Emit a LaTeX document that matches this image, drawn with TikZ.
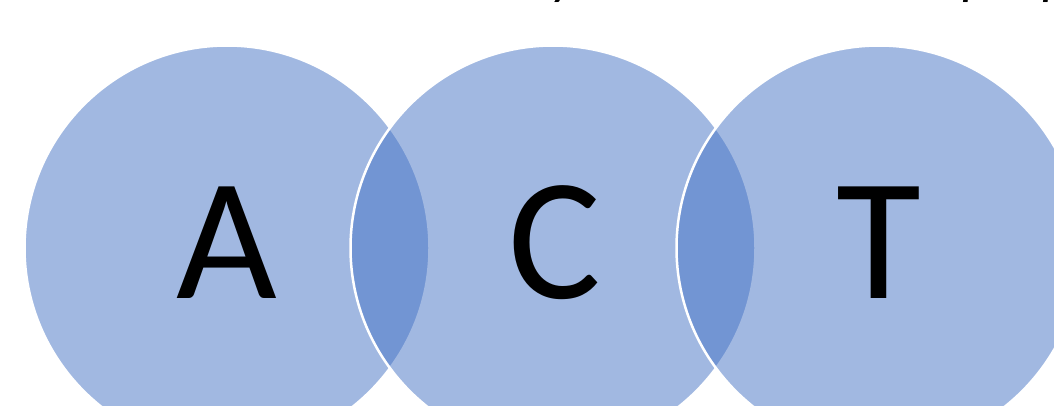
\documentclass[tikz,border=0pt]{standalone}
\usepackage{fontspec}
\setmainfont{Carlito}
\definecolor{accent}{RGB}{68,114,196}
\begin{document}
\begin{tikzpicture}[x=1pt,y=-1pt,
  circ/.style={circle, minimum size=405pt, inner sep=0pt, fill=accent, fill opacity=0.5, draw=white, line width=2.5pt},
  letter/.style={font=\fontsize{174}{174}\selectfont, text=black, inner sep=0pt, anchor=base},
  title/.style={font=\itshape\fontsize{56}{56}\selectfont, text=black, inner sep=0pt, anchor=base}]
\useasboundingbox (0,0) rectangle (1054,406);
\clip (0,0) rectangle (1054,406);
\node[circ] (cA) at (227,248) {};
\node[circ] (cC) at (553,248) {};
\node[circ] (cT) at (879,248) {};
\node[letter] (lA) at (227,298) {A};
\node[letter] (lC) at (555,298) {C};
\node[letter] (lT) at (879,298) {T};
\node[title] (t1) at (564,-6) {y};
\node[title] (t2) at (977,-6) {p};
\node[title] (t3) at (1057,-6) {p};
\end{tikzpicture}
\end{document}
